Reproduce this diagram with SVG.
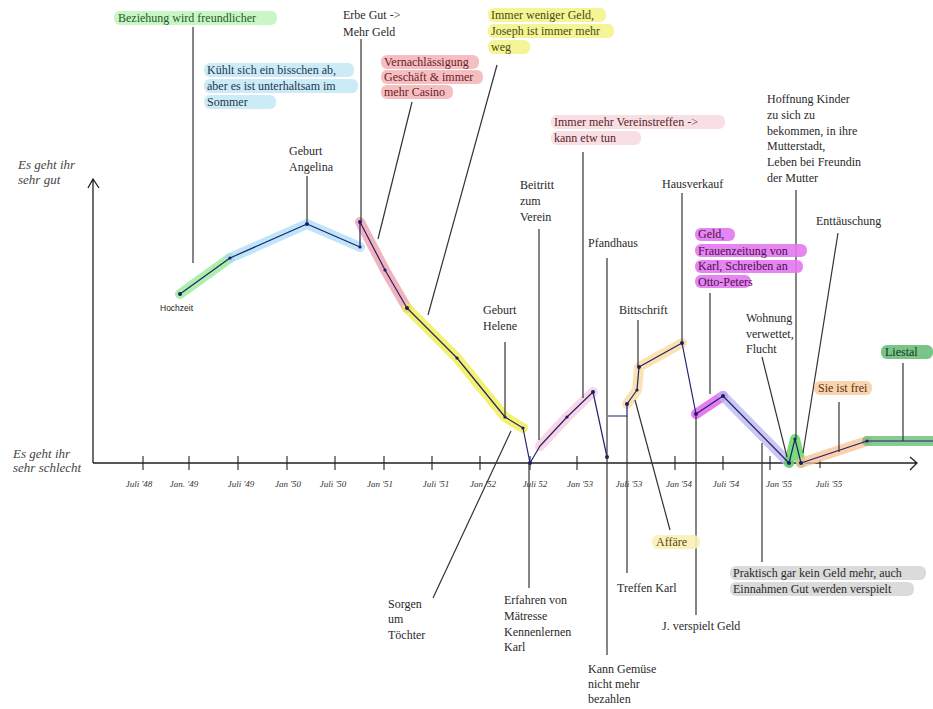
<svg xmlns="http://www.w3.org/2000/svg" width="933" height="709" viewBox="0 0 933 709">
<style>
.t{font-family:"Liberation Serif","Times New Roman",serif;font-size:12px;fill:#2a2a2a}
.ax{font-family:"Liberation Serif",serif;font-size:13px;font-style:italic;fill:#444}
.tk{font-family:"Liberation Serif",serif;font-size:9px;font-style:italic;fill:#333;text-anchor:middle}
.ld{stroke:#333;stroke-width:1.2;fill:none}
.axis{stroke:#222;stroke-width:1.3;fill:none}
.hl{fill:none;stroke-width:10;stroke-linecap:round;stroke-linejoin:round;opacity:0.75}
.data{fill:none;stroke:#22226a;stroke-width:1.2;stroke-linejoin:round}
.dot{fill:#1a1a70}
</style>
<rect width="933" height="709" fill="#fff"/>

<g id="axes">
  <path class="axis" d="M93,463 V179 M88,188 L93,179 L99,188"/>
  <path class="axis" d="M93,463 H917 M910,457 L917,463 L910,470"/>
  <g stroke="#222" stroke-width="1.1">
    <line x1="143" y1="456" x2="143" y2="470"/><line x1="189" y1="456" x2="189" y2="470"/>
    <line x1="238" y1="456" x2="238" y2="470"/><line x1="287" y1="456" x2="287" y2="470"/>
    <line x1="335" y1="456" x2="335" y2="470"/><line x1="384" y1="456" x2="384" y2="470"/>
    <line x1="432" y1="456" x2="432" y2="470"/><line x1="480" y1="456" x2="480" y2="470"/>
    <line x1="530" y1="456" x2="530" y2="470"/><line x1="577" y1="456" x2="577" y2="470"/>
    <line x1="675" y1="456" x2="675" y2="470"/><line x1="723" y1="456" x2="723" y2="470"/>
    <line x1="770" y1="456" x2="770" y2="470"/><line x1="820" y1="460" x2="820" y2="468"/>
  </g>
  <text class="tk" x="139" y="487">Juli '48</text>
  <text class="tk" x="184" y="487">Jan. '49</text>
  <text class="tk" x="241" y="487">Juli '49</text>
  <text class="tk" x="288" y="487">Jan '50</text>
  <text class="tk" x="333" y="487">Juli '50</text>
  <text class="tk" x="380" y="487">Jan '51</text>
  <text class="tk" x="436" y="487">Juli '51</text>
  <text class="tk" x="483" y="487">Jan '52</text>
  <text class="tk" x="535" y="487">Juli 52</text>
  <text class="tk" x="580" y="487">Jan '53</text>
  <text class="tk" x="629" y="487">Juli '53</text>
  <text class="tk" x="679" y="487">Jan '54</text>
  <text class="tk" x="726" y="487">Juli '54</text>
  <text class="tk" x="779" y="487">Jan '55</text>
  <text class="tk" x="829" y="487">Juli '55</text>
  <text class="ax" x="18" y="169">Es geht ihr</text>
  <text class="ax" x="18" y="184">sehr gut</text>
  <text class="ax" x="13" y="458">Es geht ihr</text>
  <text class="ax" x="13" y="472">sehr schlecht</text>
</g>

<g id="highlights">
  <polyline class="hl" stroke="#90e890" points="180,294 230,258"/>
  <polyline class="hl" stroke="#a8dcf8" points="230,258 307,224 360,247"/>
  <polyline class="hl" stroke="#ee9aa8" points="360,222 385,270 407,308"/>
  <polyline class="hl" stroke="#eeee40" points="407,308 457,358 505,417 523,428"/>
  <polyline class="hl" stroke="#f6c8dc" points="540,446 567,417 593,392"/>
  <polyline class="hl" stroke="#f8d898" points="627,404 637,390 639,367 682,343"/>
  <polyline class="hl" stroke="#dc50ee" points="696,414 723,396"/>
  <polyline class="hl" stroke="#b8b4f0" points="723,396 789,463"/>
  <polyline class="hl" stroke="#50d050" points="789,463 795,439 801,463"/>
  <polyline class="hl" stroke="#f8c094" points="801,463 867,441"/>
  <polyline class="hl" stroke="#60b870" points="867,441 933,441"/>
</g>

<g id="data-line">
  <polyline class="data" points="180,294 230,258 307,224 360,247 360,222 385,270 407,308 457,358 505,417 523,428 530,463 540,446 567,417 593,392 607,457"/>
  <polyline class="data" points="608,416 627,416 627,404 637,390 639,367 682,343 696,414 723,396 789,463 795,439 801,463 867,441 933,441"/>
  <g class="dot">
    <circle cx="180" cy="294" r="2"/><circle cx="230" cy="258" r="1.6"/><circle cx="307" cy="224" r="2"/>
    <circle cx="360" cy="247" r="1.6"/><circle cx="360" cy="222" r="2"/><circle cx="385" cy="270" r="1.6"/>
    <circle cx="407" cy="308" r="2"/><circle cx="457" cy="358" r="1.6"/><circle cx="505" cy="417" r="1.6"/>
    <circle cx="523" cy="428" r="1.6"/><circle cx="530" cy="463" r="2"/><circle cx="567" cy="417" r="1.6"/>
    <circle cx="593" cy="392" r="2"/><circle cx="607" cy="457" r="2"/><circle cx="627" cy="404" r="2"/>
    <circle cx="637" cy="390" r="1.6"/><circle cx="639" cy="367" r="2"/><circle cx="682" cy="343" r="2"/>
    <circle cx="696" cy="414" r="2"/><circle cx="723" cy="396" r="2"/><circle cx="789" cy="463" r="2"/>
    <circle cx="795" cy="439" r="1.6"/><circle cx="801" cy="463" r="2"/><circle cx="867" cy="441" r="1.6"/>
  </g>
</g>

<g id="connectors">
  <line class="ld" x1="193" y1="27" x2="193" y2="263"/>
  <line class="ld" x1="307" y1="176" x2="307" y2="222"/>
  <line class="ld" x1="361" y1="39" x2="361" y2="222"/>
  <line class="ld" x1="412" y1="102" x2="378" y2="239"/>
  <line class="ld" x1="497" y1="65" x2="428" y2="315"/>
  <line class="ld" x1="505" y1="342" x2="505" y2="417"/>
  <line class="ld" x1="511" y1="431" x2="433" y2="598"/>
  <line class="ld" x1="539" y1="229" x2="539" y2="440"/>
  <line class="ld" x1="583" y1="152" x2="583" y2="398"/>
  <line class="ld" x1="529" y1="463" x2="529" y2="588"/>
  <line class="ld" x1="607" y1="258" x2="607" y2="655"/>
  <line class="ld" x1="638" y1="320" x2="638" y2="367"/>
  <line class="ld" x1="635" y1="400" x2="670" y2="530"/>
  <line class="ld" x1="627" y1="416" x2="627" y2="573"/>
  <line class="ld" x1="682" y1="193" x2="682" y2="343"/>
  <line class="ld" x1="696" y1="414" x2="696" y2="615"/>
  <line class="ld" x1="710" y1="293" x2="710" y2="394"/>
  <line class="ld" x1="796" y1="190" x2="796" y2="439"/>
  <line class="ld" x1="838" y1="233" x2="803" y2="453"/>
  <line class="ld" x1="762" y1="357" x2="787" y2="457"/>
  <line class="ld" x1="762" y1="443" x2="762" y2="562"/>
  <line class="ld" x1="839" y1="402" x2="839" y2="452"/>
  <line class="ld" x1="903" y1="363" x2="903" y2="441"/>
</g>

<g id="n-beziehung">
  <rect x="114" y="11" width="163" height="14" rx="6" fill="#bdf2b8" opacity="0.8"/>
  <text class="t" x="118" y="22" style="fill:#245c24">Beziehung wird freundlicher</text>
</g>
<g id="n-kuehlt">
  <g fill="#c4e8f6" opacity="0.85">
    <rect x="204" y="63" width="150" height="14" rx="6"/>
    <rect x="204" y="79" width="154" height="14" rx="6"/>
    <rect x="204" y="95" width="72" height="14" rx="6"/>
  </g>
  <text class="t" x="207" y="74" style="fill:#1c3850">Kühlt sich ein bisschen ab,</text>
  <text class="t" x="207" y="90" style="fill:#1c3850">aber es ist unterhaltsam im</text>
  <text class="t" x="207" y="106" style="fill:#1c3850">Sommer</text>
</g>
<g id="n-angelina">
  <text class="t" x="289" y="155">Geburt</text>
  <text class="t" x="289" y="171">Angelina</text>
</g>
<g id="n-erbe">
  <text class="t" x="343" y="19">Erbe Gut -&gt;</text>
  <text class="t" x="343" y="36">Mehr Geld</text>
</g>
<g id="n-vernachlaessigung">
  <g fill="#f4b4b8" opacity="0.85">
    <rect x="381" y="55" width="98" height="14" rx="6"/>
    <rect x="381" y="70" width="102" height="14" rx="6"/>
    <rect x="381" y="85" width="72" height="14" rx="6"/>
  </g>
  <text class="t" x="384" y="66" style="fill:#6a1c24">Vernachlässigung</text>
  <text class="t" x="384" y="81" style="fill:#6a1c24">Geschäft &amp; immer</text>
  <text class="t" x="384" y="96" style="fill:#6a1c24">mehr Casino</text>
</g>
<g id="n-weniger-geld">
  <g fill="#f4f48c" opacity="0.9">
    <rect x="488" y="8" width="118" height="14" rx="6"/>
    <rect x="488" y="24" width="126" height="14" rx="6"/>
    <rect x="488" y="40" width="42" height="14" rx="6"/>
  </g>
  <text class="t" x="491" y="19" style="fill:#4a4a10">Immer weniger Geld,</text>
  <text class="t" x="491" y="35" style="fill:#4a4a10">Joseph ist immer mehr</text>
  <text class="t" x="491" y="51" style="fill:#4a4a10">weg</text>
</g>
<g id="n-vereinstreffen">
  <g fill="#f8dce2" opacity="0.9">
    <rect x="551" y="115" width="174" height="14" rx="6"/>
    <rect x="551" y="131" width="90" height="14" rx="6"/>
  </g>
  <text class="t" x="554" y="126" style="fill:#5a2428">Immer mehr Vereinstreffen -&gt;</text>
  <text class="t" x="554" y="142" style="fill:#5a2428">kann etw tun</text>
</g>
<g id="n-beitritt">
  <text class="t" x="520" y="189">Beitritt</text>
  <text class="t" x="520" y="205">zum</text>
  <text class="t" x="520" y="221">Verein</text>
</g>
<g id="n-pfandhaus"><text class="t" x="588" y="247">Pfandhaus</text></g>
<g id="n-helene">
  <text class="t" x="483" y="314">Geburt</text>
  <text class="t" x="483" y="330">Helene</text>
</g>
<g id="n-bittschrift"><text class="t" x="619" y="314">Bittschrift</text></g>
<g id="n-hausverkauf"><text class="t" x="662" y="188">Hausverkauf</text></g>
<g id="n-hoffnung">
  <text class="t" x="767" y="103">Hoffnung Kinder</text>
  <text class="t" x="767" y="119">zu sich zu</text>
  <text class="t" x="767" y="135">bekommen, in ihre</text>
  <text class="t" x="767" y="150">Mutterstadt,</text>
  <text class="t" x="767" y="166">Leben bei Freundin</text>
  <text class="t" x="767" y="182">der Mutter</text>
</g>
<g id="n-geld-frauenzeitung">
  <g fill="#e478f0" opacity="0.9">
    <rect x="695" y="228" width="40" height="13" rx="6"/>
    <rect x="695" y="244" width="112" height="13" rx="6"/>
    <rect x="695" y="260" width="108" height="13" rx="6"/>
    <rect x="695" y="275" width="56" height="13" rx="6"/>
  </g>
  <text class="t" x="698" y="238" style="fill:#4a104e">Geld,</text>
  <text class="t" x="698" y="255" style="fill:#4a104e">Frauenzeitung von</text>
  <text class="t" x="698" y="270" style="fill:#4a104e">Karl, Schreiben an</text>
  <text class="t" x="698" y="286" style="fill:#4a104e">Otto-Peters</text>
</g>
<g id="n-enttaeuschung"><text class="t" x="816" y="225">Enttäuschung</text></g>
<g id="n-wohnung">
  <text class="t" x="746" y="322">Wohnung</text>
  <text class="t" x="746" y="338">verwettet,</text>
  <text class="t" x="746" y="353">Flucht</text>
</g>
<g id="n-frei">
  <rect x="814" y="381" width="58" height="14" rx="6" fill="#f8d0a4" opacity="0.9"/>
  <text class="t" x="818" y="392" style="fill:#5a3010">Sie ist frei</text>
</g>
<g id="n-liestal">
  <rect x="881" y="345" width="52" height="14" rx="6" fill="#6cbc7c" opacity="0.9"/>
  <text class="t" x="885" y="356" style="fill:#143a1c">Liestal</text>
</g>
<g id="n-hochzeit">
  <text x="160" y="311" style="font-family:'Liberation Sans',sans-serif;font-size:8.5px;fill:#222">Hochzeit</text>
</g>
<g id="n-sorgen">
  <text class="t" x="388" y="608">Sorgen</text>
  <text class="t" x="388" y="623">um</text>
  <text class="t" x="388" y="639">Töchter</text>
</g>
<g id="n-erfahren">
  <text class="t" x="504" y="604">Erfahren von</text>
  <text class="t" x="504" y="620">Mätresse</text>
  <text class="t" x="504" y="636">Kennenlernen</text>
  <text class="t" x="504" y="651">Karl</text>
</g>
<g id="n-gemuese">
  <text class="t" x="588" y="673">Kann Gemüse</text>
  <text class="t" x="588" y="688">nicht mehr</text>
  <text class="t" x="588" y="703">bezahlen</text>
</g>
<g id="n-treffen"><text class="t" x="617" y="592">Treffen Karl</text></g>
<g id="n-affaere">
  <rect x="652" y="535" width="48" height="14" rx="6" fill="#fbf0b8" opacity="0.9"/>
  <text class="t" x="656" y="546" style="fill:#5a4a10">Affäre</text>
</g>
<g id="n-verspielt"><text class="t" x="662" y="630">J. verspielt Geld</text></g>
<g id="n-praktisch">
  <g fill="#d8d8d8" opacity="0.9">
    <rect x="730" y="566" width="196" height="14" rx="6"/>
    <rect x="730" y="582" width="184" height="14" rx="6"/>
  </g>
  <text class="t" x="733" y="577">Praktisch gar kein Geld mehr, auch</text>
  <text class="t" x="733" y="593">Einnahmen Gut werden verspielt</text>
</g>
</svg>
